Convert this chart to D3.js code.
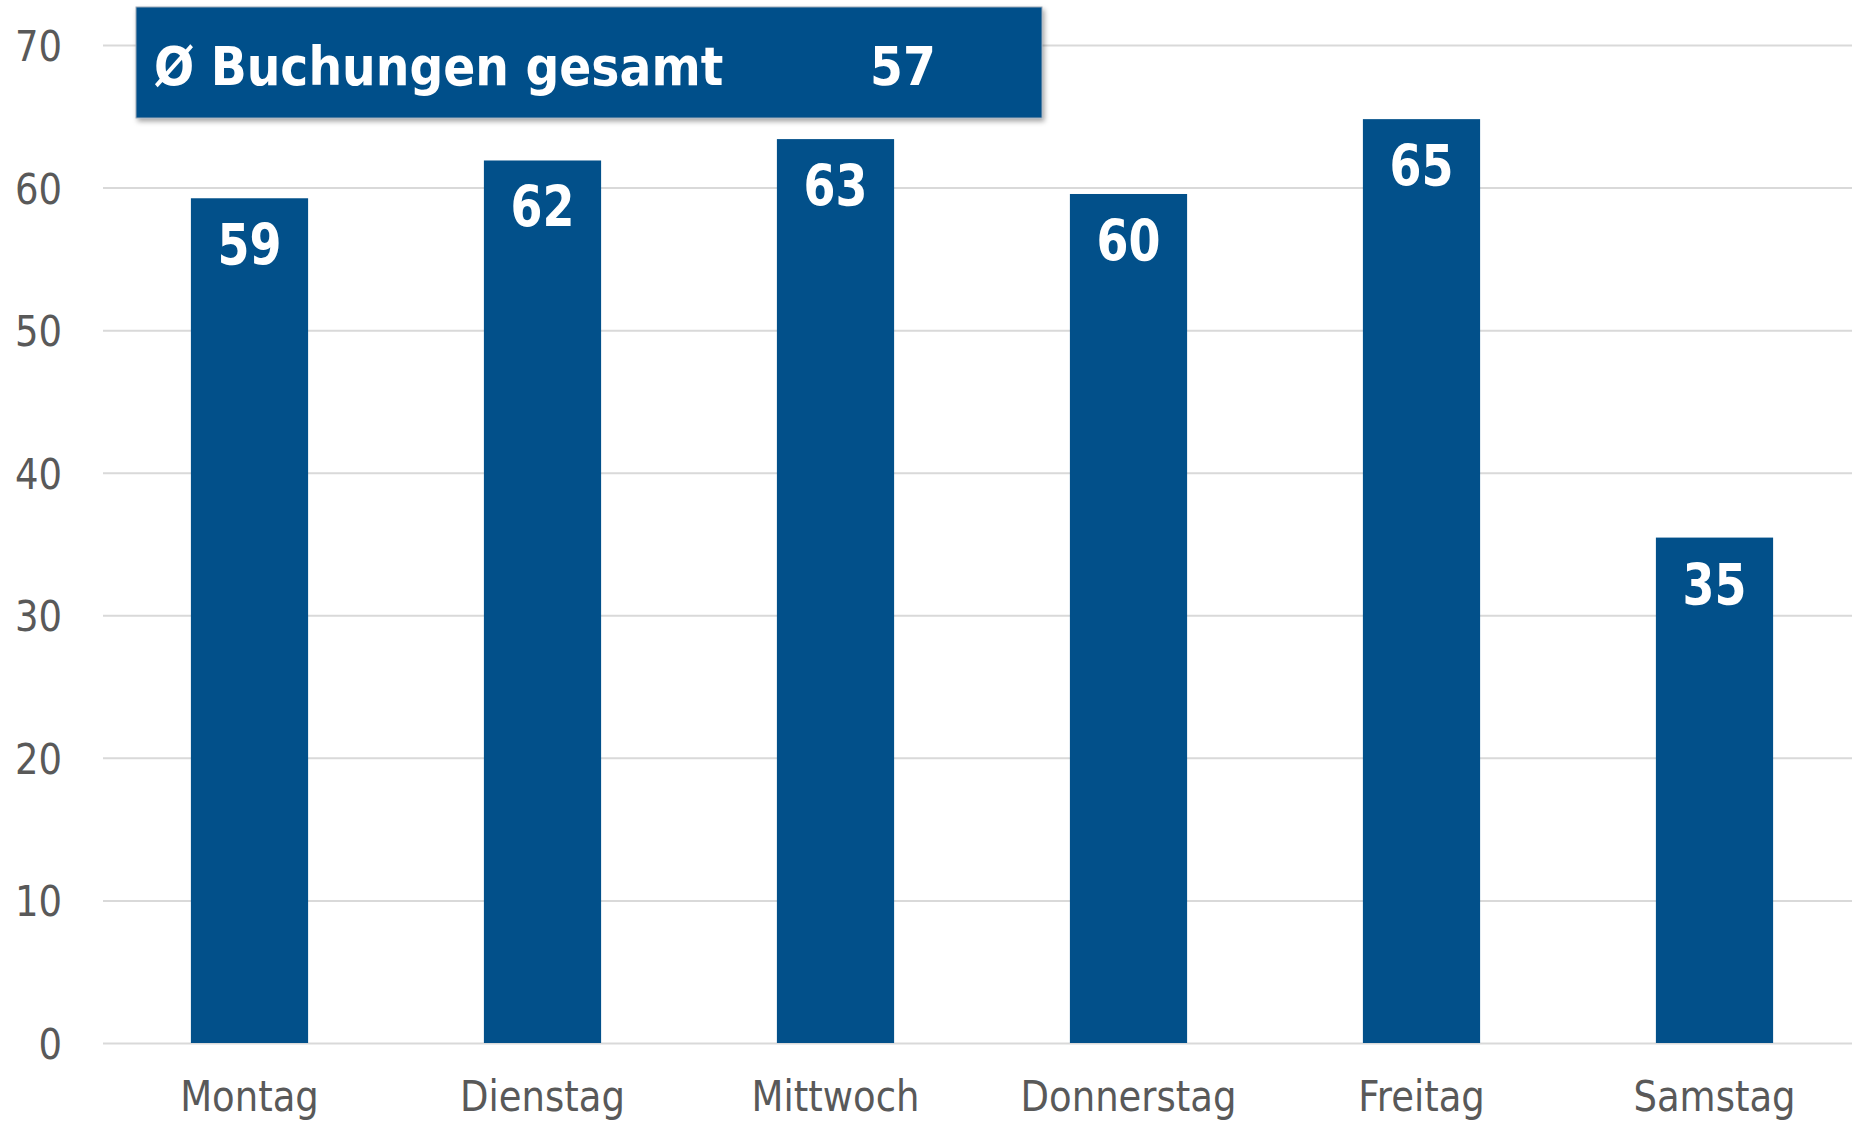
<!DOCTYPE html>
<html>
<head>
<meta charset="utf-8">
<script src="https://cdn.jsdelivr.net/npm/d3@7/dist/d3.min.js"></script>
<style>
  html, body { margin: 0; padding: 0; background: #ffffff; overflow: hidden; }
  svg { display: block; }
</style>
</head>
<body>
<svg id="chart" width="1852" height="1123"></svg>
<script>
// ---- Data ----
const categories = ["Montag", "Dienstag", "Mittwoch", "Donnerstag", "Freitag", "Samstag"];
const values = [59.25, 61.9, 63.4, 59.55, 64.8, 35.45];
const yTicks = [0, 10, 20, 30, 40, 50, 60, 70];
const summaryLabel = "Ø Buchungen gesamt";
const summaryValue = 57;

// ---- Layout ----
const W = 1852, H = 1123;
const margin = { left: 103, top: 45, bottom: 80 };
const plotRight = 1861;
const y0 = 1043;
const barColor = "#02508a";
const textGray = "#595959";
const gridColor = "#d9d9d9";
const fontReg = "'DejaVu Sans', Verdana, sans-serif";

const svg = d3.select("#chart");

const defs = svg.append("defs");
const f = defs.append("filter").attr("id", "shadow")
  .attr("x", "-5%").attr("y", "-20%").attr("width", "115%").attr("height", "150%");
f.append("feDropShadow").attr("dx", 2).attr("dy", 3).attr("stdDeviation", 2.5)
  .attr("flood-color", "#000").attr("flood-opacity", 0.35);

const x = d3.scaleBand()
  .domain(categories)
  .range([margin.left, plotRight])
  .paddingInner(0.6)
  .paddingOuter(0.3);

const y = d3.scaleLinear().domain([0, 70]).range([y0, margin.top]);

// Gridlines + y labels
const yAxis = svg.append("g")
  .attr("transform", `translate(${margin.left},0)`)
  .call(d3.axisLeft(y).tickValues(yTicks).tickSize(-(W - margin.left)).tickFormat(d3.format("d")));
yAxis.select(".domain").remove();
yAxis.selectAll(".tick line").attr("stroke", gridColor).attr("stroke-width", 2);
yAxis.selectAll(".tick text")
  .attr("x", -41)
  .attr("dy", "0.36em")
  .attr("transform", "scale(1,1.16)")
  .attr("fill", textGray)
  .style("font-family", fontReg)
  .style("font-size", "37px");

// Bars
svg.append("g").selectAll("rect")
  .data(values)
  .join("rect")
  .attr("x", (d, i) => x(categories[i]))
  .attr("y", d => y(d))
  .attr("width", x.bandwidth())
  .attr("height", d => y(0) - y(d))
  .attr("fill", barColor);

// Bar labels
svg.append("g").selectAll("text")
  .data(values)
  .join("text")
  .attr("transform", (d, i) => `translate(${x(categories[i]) + x.bandwidth() / 2},${y(d) + 67}) scale(1,1.25)`)
  .attr("text-anchor", "middle")
  .attr("fill", "#ffffff")
  .style("font-family", fontReg)
  .style("font-weight", "bold")
  .style("font-size", "46px")
  .text(d => Math.round(d));

// X axis labels
const xAxis = svg.append("g")
  .attr("transform", `translate(0,${y0})`)
  .call(d3.axisBottom(x).tickSize(0));
xAxis.select(".domain").remove();
xAxis.selectAll(".tick text")
  .attr("y", 58.5)
  .attr("dy", 0)
  .attr("transform", "scale(1,1.16)")
  .attr("fill", textGray)
  .style("font-family", fontReg)
  .style("font-size", "37px");

// Summary box
const box = svg.append("g");
box.append("rect")
  .attr("x", 136).attr("y", 7)
  .attr("width", 906).attr("height", 111)
  .attr("fill", barColor)
  .attr("stroke", "#9aa8b8").attr("stroke-width", 1)
  .attr("filter", "url(#shadow)");
box.append("text")
  .attr("transform", "translate(154,84.5) scale(1,1.12)")
  .attr("fill", "#ffffff")
  .style("font-family", fontReg)
  .style("font-weight", "bold")
  .style("font-size", "47.3px")
  .text(summaryLabel);
box.append("text")
  .attr("transform", "translate(903,84.5) scale(1,1.12)")
  .attr("text-anchor", "middle")
  .attr("fill", "#ffffff")
  .style("font-family", fontReg)
  .style("font-weight", "bold")
  .style("font-size", "47.3px")
  .text(summaryValue);
</script>
</body>
</html>
